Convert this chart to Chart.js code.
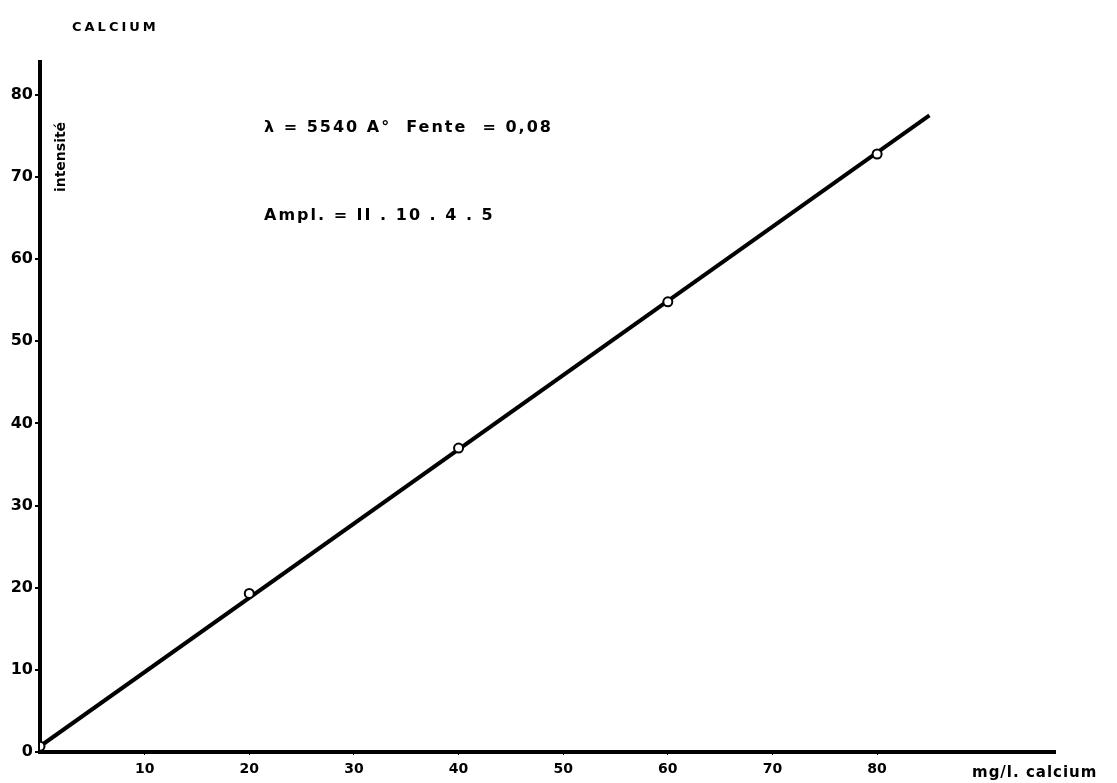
<!DOCTYPE html>
<html>
<head>
<meta charset="utf-8">
<title>Calcium</title>
<script src="https://cdn.jsdelivr.net/npm/chart.js@4.4.1/dist/chart.umd.min.js"></script>
<style>
  body { margin: 0; background: #fff; }
  #wrap { width: 1117px; height: 783px; position: relative; }
</style>
</head>
<body>
<div id="wrap"><canvas id="calciumChart"></canvas></div>
<script>
// measured points (mg/l calcium -> intensite)
const concentrations = [0, 20, 40, 60, 80];
const intensities = [0.7, 19.3, 37, 54.8, 72.8];

// straight calibration line drawn through the points
const fitX = [0, 85];
const fitY = [0.7, 77.5];

const xTicks = [10, 20, 30, 40, 50, 60, 70, 80];
const yTicks = [0, 10, 20, 30, 40, 50, 60, 70, 80];

const titleText = 'CALCIUM';
const noteLines = ['\u03bb = 5540 A\u00b0  Fente  = 0,08', 'Ampl. = II . 10 . 4 . 5'];
const xTitle = 'mg/l. calcium';
const yTitle = 'intensit\u00e9';

const FONT = '"DejaVu Sans", sans-serif';

// texts that sit around the plot
const textPlugin = {
    id: 'texts',
    afterDraw(chart) {
        const ctx = chart.ctx;
        ctx.save();
        ctx.fillStyle = '#000';
        ctx.textBaseline = 'middle';
        ctx.textAlign = 'left';

        ctx.font = 'bold 13px ' + FONT;
        ctx.letterSpacing = '3px';
        ctx.fillText(titleText, 72, 28);

        ctx.font = 'bold 16px ' + FONT;
        ctx.letterSpacing = '2px';
        ctx.fillText(noteLines[0], 264, 128);
        ctx.fillText(noteLines[1], 264, 216);

        ctx.font = 'bold 15px ' + FONT;
        ctx.letterSpacing = '1px';
        ctx.fillText(xTitle, 972, 773);

        ctx.letterSpacing = '0px';
        ctx.font = 'bold 14px ' + FONT;
        ctx.translate(61, 157);
        ctx.rotate(-Math.PI / 2);
        ctx.textAlign = 'center';
        ctx.fillText(yTitle, 0, 0);
        ctx.restore();
    }
};

const pointData = concentrations.map((c, i) => ({ x: c, y: intensities[i] }));
const fitData = fitX.map((c, i) => ({ x: c, y: fitY[i] }));

const config = {
    type: 'scatter',
    data: {
        datasets: [
            {
                label: 'mesures',
                data: pointData,
                pointRadius: 4.5,
                pointBackgroundColor: '#fff',
                pointBorderColor: '#000',
                pointBorderWidth: 2,
                showLine: false
            },
            {
                label: 'droite',
                data: fitData,
                showLine: true,
                borderColor: '#000',
                borderWidth: 4,
                pointRadius: 0
            }
        ]
    },
    options: {
        responsive: true,
        maintainAspectRatio: false,
        animation: false,
        layout: { padding: { top: 62, right: 62, bottom: 0, left: 0 } },
        plugins: {
            legend: { display: false },
            tooltip: { enabled: false }
        },
        scales: {
            x: {
                type: 'linear',
                min: 0,
                max: 97,
                border: { display: true, color: '#000', width: 4 },
                grid: { drawOnChartArea: false, drawTicks: true, tickLength: 3, color: '#000', lineWidth: 1 },
                ticks: { color: '#000', font: { family: FONT, size: 14, weight: 'bold' }, padding: 6, maxRotation: 0 },
                afterBuildTicks: scale => { scale.ticks = xTicks.map(v => ({ value: v })); },
                afterFit: scale => { scale.height = 31; }
            },
            y: {
                type: 'linear',
                min: 0,
                max: 84,
                border: { display: true, color: '#000', width: 4 },
                grid: { drawOnChartArea: false, drawTicks: true, tickLength: 5, color: '#000', lineWidth: 2 },
                ticks: { color: '#000', font: { family: FONT, size: 16, weight: 'bold' }, padding: 2 },
                afterBuildTicks: scale => { scale.ticks = yTicks.map(v => ({ value: v })); },
                afterFit: scale => { scale.width = 40; }
            }
        }
    },
    plugins: [textPlugin]
};

const ctx = document.getElementById('calciumChart').getContext('2d');
new Chart(ctx, config);
</script>
</body>
</html>
